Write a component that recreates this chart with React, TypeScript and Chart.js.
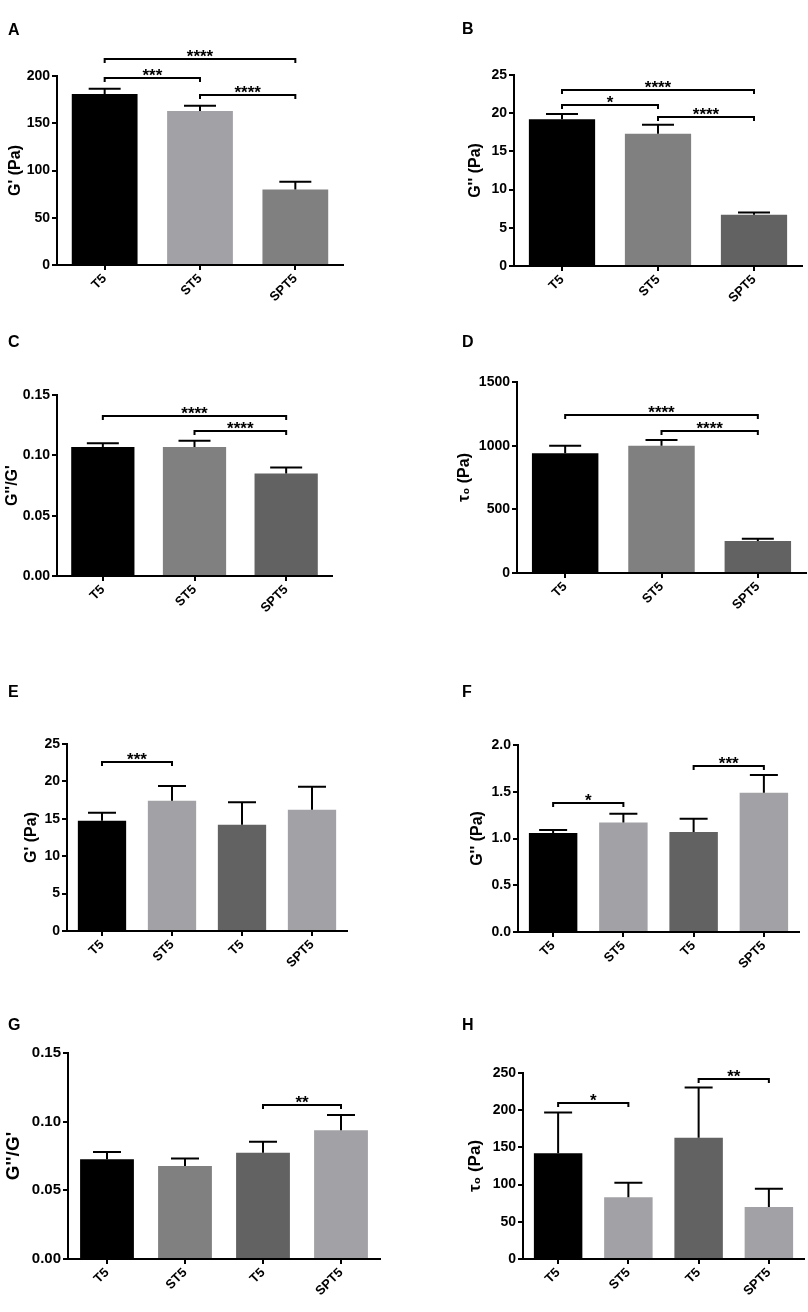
import React, { useEffect, useRef } from 'react';
import { Chart, registerables } from 'chart.js';

Chart.register(...registerables);

const FONT = "'Liberation Sans', Arial, sans-serif";

const BLACK = '#000000';
const LIGHT = '#a2a2a6';
const MID = '#808080';
const DARK = '#626262';

// categories
const groups3 = ['T5', 'ST5', 'SPT5'];
const groups4 = ['T5', 'ST5', 'T5', 'SPT5'];

// series values (mean) and upper error bars
const storageA = [181, 163, 80];
const storageErrA = [5.5, 5.5, 8];
const lossB = [19.2, 17.3, 6.7];
const lossErrB = [0.7, 1.2, 0.3];
const ratioC = [0.107, 0.107, 0.085];
const ratioErrC = [0.003, 0.005, 0.005];
const yieldD = [941, 1000, 251];
const yieldErrD = [59, 45, 18];
const storageE = [14.75, 17.4, 14.2, 16.2];
const storageErrE = [1.05, 2.0, 3.0, 3.1];
const lossF = [1.06, 1.17, 1.07, 1.49];
const lossErrF = [0.03, 0.095, 0.14, 0.19];
const ratioG = [0.0727, 0.0678, 0.0773, 0.0938];
const ratioErrG = [0.0053, 0.0054, 0.008, 0.011];
const yieldH = [142, 83, 163, 70];
const yieldErrH = [55, 19.5, 67.5, 24.5];

// y axis ranges: [max, step]
const rangeA = [200, 50];
const rangeB = [25, 5];
const rangeC = [0.15, 0.05];
const rangeD = [1500, 500];
const rangeE = [25, 5];
const rangeF = [2.0, 0.5];
const rangeG = [0.15, 0.05];
const rangeH = [250, 50];

interface Bracket {
  from: number;
  to: number;
  at: number;
  stars: string;
}

const bracketsA: Bracket[] = [
  { from: 0, to: 2, at: 218, stars: '****' },
  { from: 0, to: 1, at: 198, stars: '***' },
  { from: 1, to: 2, at: 180, stars: '****' },
];
const bracketsB: Bracket[] = [
  { from: 0, to: 2, at: 23.1, stars: '****' },
  { from: 0, to: 1, at: 21.1, stars: '*' },
  { from: 1, to: 2, at: 19.5, stars: '****' },
];
const bracketsC: Bracket[] = [
  { from: 0, to: 2, at: 0.133, stars: '****' },
  { from: 1, to: 2, at: 0.12, stars: '****' },
];
const bracketsD: Bracket[] = [
  { from: 0, to: 2, at: 1241, stars: '****' },
  { from: 1, to: 2, at: 1118, stars: '****' },
];
const bracketsE: Bracket[] = [{ from: 0, to: 1, at: 22.6, stars: '***' }];
const bracketsF: Bracket[] = [
  { from: 0, to: 1, at: 1.376, stars: '*' },
  { from: 2, to: 3, at: 1.776, stars: '***' },
];
const bracketsG: Bracket[] = [{ from: 2, to: 3, at: 0.112, stars: '**' }];
const bracketsH: Bracket[] = [
  { from: 0, to: 1, at: 209.8, stars: '*' },
  { from: 2, to: 3, at: 242.5, stars: '**' },
];

interface PanelProps {
  letter: string;
  labels: string[];
  values: number[];
  errors: number[];
  colors: string[];
  range: number[];
  decimals: number;
  yTitle: string;
  brackets: Bracket[];
  // layout (page px)
  left: number;
  top: number;
  width: number;
  height: number;
  area: [number, number, number, number]; // chart area L, T, R, B
  titleX: number;
  titleSize: number;
  tickSize: number;
  letterPos: [number, number];
}

const Panel: React.FC<PanelProps> = (p) => {
  const canvasRef = useRef<HTMLCanvasElement>(null);

  useEffect(() => {
    if (!canvasRef.current) return;
    const [L, T, R, B] = p.area;
    const axisW = L - p.left;
    const axisH = p.top + p.height - B;
    const capHalf = p.labels.length === 3 ? 16 : 14;

    const overlay = {
      id: 'overlay',
      afterDatasetsDraw(chart: Chart) {
        const ctx = chart.ctx;
        const xs = chart.scales.x;
        const ys = chart.scales.y;
        const meta = chart.getDatasetMeta(0);
        ctx.save();
        ctx.strokeStyle = '#000';
        ctx.lineWidth = 2;
        meta.data.forEach((bar: any, i: number) => {
          const yTop = ys.getPixelForValue(p.values[i] + p.errors[i]);
          ctx.beginPath();
          ctx.moveTo(bar.x, bar.y);
          ctx.lineTo(bar.x, yTop);
          ctx.moveTo(bar.x - capHalf, yTop);
          ctx.lineTo(bar.x + capHalf, yTop);
          ctx.stroke();
        });
        ctx.font = `bold 17px ${FONT}`;
        ctx.fillStyle = '#000';
        ctx.textAlign = 'center';
        ctx.textBaseline = 'alphabetic';
        p.brackets.forEach((b) => {
          const x1 = xs.getPixelForValue(b.from);
          const x2 = xs.getPixelForValue(b.to);
          const y = Math.round(ys.getPixelForValue(b.at));
          ctx.beginPath();
          ctx.moveTo(x1, y + 4);
          ctx.lineTo(x1, y);
          ctx.lineTo(x2, y);
          ctx.lineTo(x2, y + 4);
          ctx.stroke();
          ctx.fillText(b.stars, (x1 + x2) / 2, y + 3);
        });
        ctx.restore();
      },
    };

    const chart = new Chart(canvasRef.current, {
      type: 'bar',
      data: {
        labels: p.labels,
        datasets: [
          {
            data: p.values,
            backgroundColor: p.colors,
            borderWidth: 0,
            barPercentage: 0.69,
            categoryPercentage: 1,
          },
        ],
      },
      options: {
        responsive: true,
        maintainAspectRatio: false,
        animation: false,
        layout: {
          padding: { left: 0, top: T - p.top, right: p.left + p.width - R, bottom: 0 },
        },
        plugins: {
          legend: { display: false },
          tooltip: { enabled: false },
        },
        scales: {
          x: {
            grid: {
              offset: false,
              drawOnChartArea: false,
              drawTicks: true,
              tickLength: 5,
              color: '#000',
              lineWidth: 2,
            },
            border: { display: true, color: '#000', width: 2 },
            ticks: {
              autoSkip: false,
              minRotation: 45,
              maxRotation: 45,
              padding: 1,
              color: '#000',
              font: { family: FONT, size: 13, weight: 'bold' },
            },
            afterFit: (s: any) => {
              s.height = axisH;
            },
          },
          y: {
            min: 0,
            max: p.range[0],
            grid: {
              drawOnChartArea: false,
              drawTicks: true,
              tickLength: 5,
              color: '#000',
              lineWidth: 2,
            },
            border: { display: true, color: '#000', width: 2 },
            ticks: {
              stepSize: p.range[1],
              padding: 2,
              color: '#000',
              font: { family: FONT, size: p.tickSize, weight: 'bold' },
              callback: (v: any) => Number(v).toFixed(p.decimals),
            },
            title: {
              display: true,
              text: p.yTitle,
              color: '#000',
              font: { family: FONT, size: p.titleSize, weight: 'bold' },
              padding: { top: p.titleX - p.left - (p.titleSize * 1.2) / 2, bottom: 0 },
            },
            afterFit: (s: any) => {
              s.width = axisW;
            },
          },
        },
      },
      plugins: [overlay],
    });

    return () => {
      chart.destroy();
    };
  }, [p]);

  return (
    <>
      <div
        style={{
          position: 'absolute',
          left: p.left,
          top: p.top,
          width: p.width,
          height: p.height,
        }}
      >
        <canvas ref={canvasRef}></canvas>
      </div>
      <div
        style={{
          position: 'absolute',
          left: p.letterPos[0],
          top: p.letterPos[1],
          font: `bold 16px ${FONT}`,
          lineHeight: '16px',
          color: '#000',
        }}
      >
        {p.letter}
      </div>
    </>
  );
};

const panels: PanelProps[] = [
  {
    letter: 'A', labels: groups3, values: storageA, errors: storageErrA, colors: [BLACK, LIGHT, MID],
    range: rangeA, decimals: 0, yTitle: "G' (Pa)", brackets: bracketsA,
    left: 0, top: 0, width: 404, height: 310, area: [57, 76, 343, 265],
    titleX: 16, titleSize: 16, tickSize: 14, letterPos: [8, 22],
  },
  {
    letter: 'B', labels: groups3, values: lossB, errors: lossErrB, colors: [BLACK, MID, DARK],
    range: rangeB, decimals: 0, yTitle: "G'' (Pa)", brackets: bracketsB,
    left: 404, top: 0, width: 404, height: 310, area: [514, 75, 802, 266],
    titleX: 476, titleSize: 16, tickSize: 14, letterPos: [462, 21],
  },
  {
    letter: 'C', labels: groups3, values: ratioC, errors: ratioErrC, colors: [BLACK, MID, DARK],
    range: rangeC, decimals: 2, yTitle: "G''/G'", brackets: bracketsC,
    left: 0, top: 300, width: 404, height: 330, area: [57, 395, 332, 576],
    titleX: 13, titleSize: 16, tickSize: 14, letterPos: [8, 334],
  },
  {
    letter: 'D', labels: groups3, values: yieldD, errors: yieldErrD, colors: [BLACK, MID, DARK],
    range: rangeD, decimals: 0, yTitle: 'τ₀ (Pa)', brackets: bracketsD,
    left: 404, top: 300, width: 404, height: 330, area: [517, 382, 806, 573],
    titleX: 465, titleSize: 16, tickSize: 14, letterPos: [462, 334],
  },
  {
    letter: 'E', labels: groups4, values: storageE, errors: storageErrE, colors: [BLACK, LIGHT, DARK, LIGHT],
    range: rangeE, decimals: 0, yTitle: "G' (Pa)", brackets: bracketsE,
    left: 0, top: 630, width: 404, height: 355, area: [67, 744, 347, 931],
    titleX: 32, titleSize: 16, tickSize: 14, letterPos: [8, 684],
  },
  {
    letter: 'F', labels: groups4, values: lossF, errors: lossErrF, colors: [BLACK, LIGHT, DARK, LIGHT],
    range: rangeF, decimals: 1, yTitle: "G'' (Pa)", brackets: bracketsF,
    left: 404, top: 630, width: 404, height: 355, area: [518, 745, 799, 932],
    titleX: 478, titleSize: 16, tickSize: 14, letterPos: [462, 684],
  },
  {
    letter: 'G', labels: groups4, values: ratioG, errors: ratioErrG, colors: [BLACK, MID, DARK, LIGHT],
    range: rangeG, decimals: 2, yTitle: "G''/G'", brackets: bracketsG,
    left: 0, top: 985, width: 404, height: 327, area: [68, 1053, 380, 1259],
    titleX: 14, titleSize: 19, tickSize: 15, letterPos: [8, 1017],
  },
  {
    letter: 'H', labels: groups4, values: yieldH, errors: yieldErrH, colors: [BLACK, LIGHT, DARK, LIGHT],
    range: rangeH, decimals: 0, yTitle: 'τ₀ (Pa)', brackets: bracketsH,
    left: 404, top: 985, width: 404, height: 327, area: [523, 1073, 804, 1259],
    titleX: 475, titleSize: 17, tickSize: 14, letterPos: [462, 1017],
  },
];

const App: React.FC = () => {
  return (
    <div
      style={{
        position: 'absolute',
        left: 0,
        top: 0,
        width: 808,
        height: 1312,
        background: '#fff',
        overflow: 'hidden',
      }}
    >
      {panels.map((p) => (
        <Panel key={p.letter} {...p} />
      ))}
    </div>
  );
};

export default App;
